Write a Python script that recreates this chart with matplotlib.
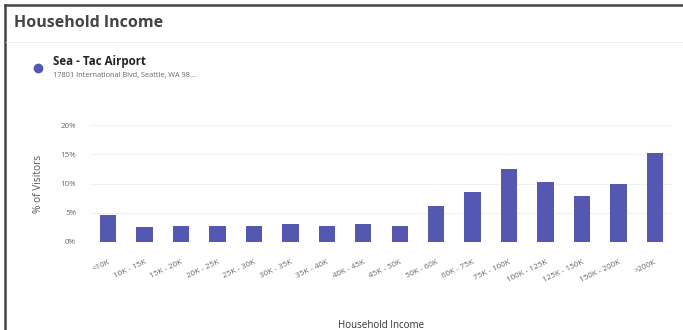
import matplotlib.pyplot as plt
from matplotlib.lines import Line2D

plt.rcParams['font.family'] = ['Open Sans', 'DejaVu Sans']

# Data
categories = ['<10K', '10K - 15K', '15K - 20K', '20K - 25K', '25K - 30K', '30K - 35K',
              '35K - 40K', '40K - 45K', '45K - 50K', '50K - 60K', '60K - 75K',
              '75K - 100K', '100K - 125K', '125K - 150K', '150K - 200K', '>200K']
visitors_pct = [4.7, 2.6, 2.7, 2.8, 2.8, 3.0, 2.8, 3.0, 2.7, 6.2, 8.5, 12.4, 10.3, 7.9, 10.0, 15.2]
y_ticks = [0, 5, 10, 15, 20]

bar_color = '#5458b0'
W, H = 683, 330

fig = plt.figure(figsize=(W / 100, H / 100), dpi=100)
fig.patch.set_facecolor('white')

# Card border (top and left) and header divider
fig.add_artist(Line2D([5 / W, 1], [1 - 5 / H, 1 - 5 / H], color='#444444', lw=1.8))
fig.add_artist(Line2D([5 / W, 5 / W], [0, 1 - 5 / H], color='#444444', lw=1.8))
fig.add_artist(Line2D([6 / W, 1], [1 - 42 / H, 1 - 42 / H], color='#eeeeee', lw=0.8))

# Header texts
fig.text(14 / W, 1 - 23 / H, 'Household Income', fontsize=11.5, fontweight='bold',
         color='#444444', va='center')
fig.add_artist(Line2D([38 / W], [1 - 68 / H], marker='o', markersize=6,
                      color=bar_color, lw=0))
fig.text(53 / W, 1 - 62 / H, 'Sea - Tac Airport', fontsize=8.3, fontweight='bold',
         color='#222222', va='center')
fig.text(53 / W, 1 - 76 / H, '17801 International Blvd, Seattle, WA 98...', fontsize=5.3,
         color='#666666', va='center')

# Chart
ax = fig.add_axes([90 / W, 88 / H, 583 / W, 117 / H])
x = list(range(len(categories)))
ax.bar(x, visitors_pct, width=0.45, color=bar_color, zorder=3)
ax.set_xlim(-0.5, len(categories) - 0.5)
ax.set_ylim(0, 20)
ax.set_yticks(y_ticks)
ax.set_yticklabels([f'{v}%' for v in y_ticks])
ax.set_xticks(x)
ax.set_xticklabels(categories, rotation=25, ha='right', rotation_mode='anchor')
ax.tick_params(axis='both', length=0, labelsize=5.8, colors='#666666')
ax.tick_params(axis='y', pad=10)
ax.tick_params(axis='x', pad=12)
ax.grid(axis='y', color='#f0f0f0', lw=0.8, zorder=0)
for s in ax.spines.values():
    s.set_visible(False)
ax.axhline(0, color='#e6e6e6', lw=0.8, zorder=2)

ax.set_ylabel('% of Visitors', fontsize=7.3, color='#555555', labelpad=12)
ax.set_xlabel('Household Income', fontsize=7, color='#333333', labelpad=26)

fig.savefig('out.png', dpi=100)
